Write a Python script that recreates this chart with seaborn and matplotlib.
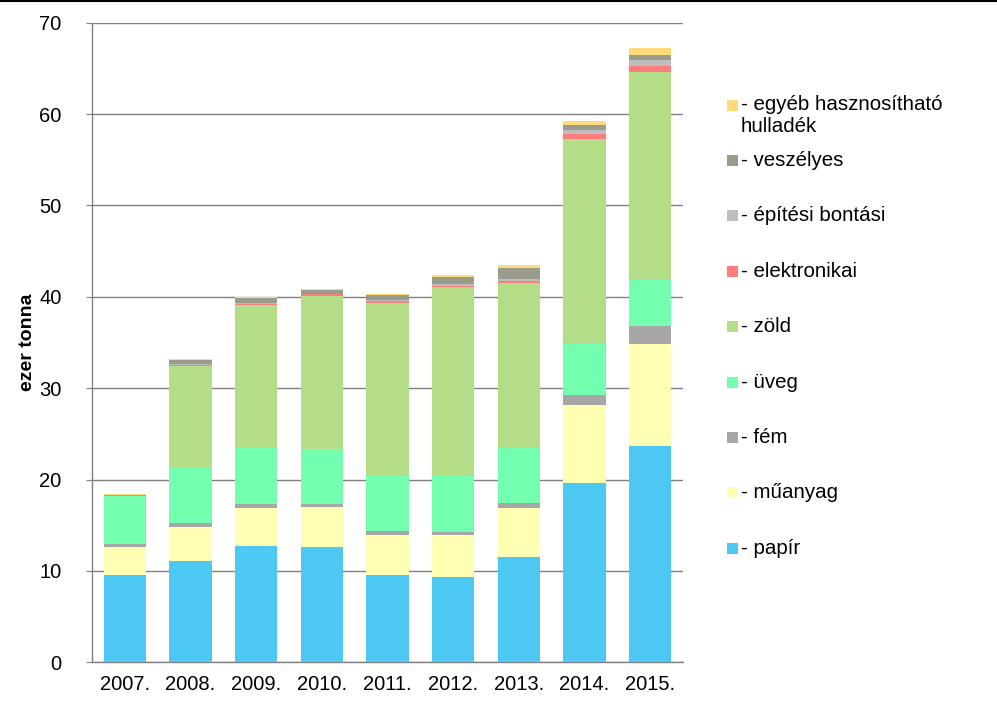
import matplotlib
matplotlib.use("Agg")
import matplotlib.pyplot as plt
from matplotlib.patches import Rectangle
from matplotlib.lines import Line2D
import seaborn as sns
import pandas as pd
import numpy as np

years = ["2007.", "2008.", "2009.", "2010.", "2011.", "2012.", "2013.", "2014.", "2015."]

papir        = [9.55, 11.08, 12.72, 12.61, 9.55, 9.37, 11.52, 19.65, 23.67]
muanyag      = [3.10, 3.76, 4.19, 4.41, 4.41, 4.56, 5.39, 8.53, 11.15]
fem          = [0.29, 0.40, 0.41, 0.30, 0.41, 0.36, 0.52, 1.10, 1.97]
uveg         = [5.29, 6.09, 6.09, 5.98, 6.05, 6.13, 6.05, 5.58, 5.03]
zold         = [0.00, 11.12, 15.68, 16.81, 18.92, 20.61, 17.99, 22.36, 22.80]
elektronikai = [0.10, 0.13, 0.11, 0.15, 0.22, 0.14, 0.25, 0.58, 0.65]
epitesi      = [0.00, 0.05, 0.10, 0.10, 0.10, 0.22, 0.25, 0.44, 0.66]
veszelyes    = [0.00, 0.44, 0.52, 0.34, 0.49, 0.80, 1.14, 0.51, 0.55]
egyeb        = [0.08, 0.15, 0.18, 0.14, 0.14, 0.18, 0.39, 0.51, 0.73]

series_names = ["- papír", "- műanyag", "- fém", "- üveg", "- zöld",
                "- elektronikai", "- építési bontási", "- veszélyes",
                "- egyéb hasznosítható\nhulladék"]
series_values = [papir, muanyag, fem, uveg, zold, elektronikai, epitesi, veszelyes, egyeb]
colors = ["#4DC8F2", "#FFFFB3", "#A6A6A6", "#74FFB0", "#B3DE87",
          "#FF7C7C", "#BDBDBD", "#9B9B8B", "#FFDB7C"]

y_ticks = [0, 10, 20, 30, 40, 50, 60, 70]

sns.set_style("white")
plt.rcParams["font.family"] = ["Liberation Sans", "DejaVu Sans"]
plt.rcParams["text.color"] = "black"
plt.rcParams["axes.labelcolor"] = "black"

W, H = 997, 717
fig = plt.figure(figsize=(W / 100, H / 100), dpi=100)
ax = fig.add_axes([92 / W, (H - 662.3) / H, (683 - 92) / W, (662.3 - 22.7) / H])

bottom = np.zeros(len(years))
for name, vals, col in zip(series_names, series_values, colors):
    df = pd.DataFrame({"year": years, "val": vals})
    sns.barplot(data=df, x="year", y="val", order=years, bottom=bottom,
                color=col, saturation=1, width=0.64, ax=ax, zorder=3,
                linewidth=0, errorbar=None)
    bottom = bottom + np.array(vals)

ax.set_xlim(-0.5, len(years) - 0.5)
ax.set_ylim(0, 70)
ax.set_yticks(y_ticks)
ax.set_yticklabels([str(t) for t in y_ticks], fontsize=14.5)
ax.tick_params(axis="x", labelsize=14.5, length=0, pad=9, labelcolor="black")
ax.tick_params(axis="y", length=4, color="#808080", pad=18, left=True,
               labelcolor="black")
ax.set_xlabel("")
ax.set_ylabel("ezer tonna", fontsize=14, fontweight="bold")
ax.yaxis.set_label_coords(-0.095, 0.5)
ax.yaxis.grid(True, color="#808080", linewidth=1.0, zorder=0)
ax.set_axisbelow(True)
for s in ["top", "right"]:
    ax.spines[s].set_visible(False)
for s in ["left", "bottom"]:
    ax.spines[s].set_color("#808080")
    ax.spines[s].set_linewidth(1.0)

# legend (reversed order, top = last series)
leg_items = list(zip(series_names, colors))[::-1]
y0 = 105
dy = 55.4
for i, (name, col) in enumerate(leg_items):
    yc = y0 + i * dy
    fig.patches.append(Rectangle((727 / W, (H - yc - 5.5) / H), 11 / W, 11 / H,
                                 transform=fig.transFigure, facecolor=col,
                                 edgecolor="none"))
    fig.text(741 / W, (H - yc + 9.5) / H, name, fontsize=14.8, va="top",
             ha="left", linespacing=1.15)

# top border line
fig.add_artist(Line2D([0, 1], [1 - 1 / H, 1 - 1 / H], transform=fig.transFigure,
                      color="black", linewidth=1.5))

fig.savefig("out.png", dpi=100)
